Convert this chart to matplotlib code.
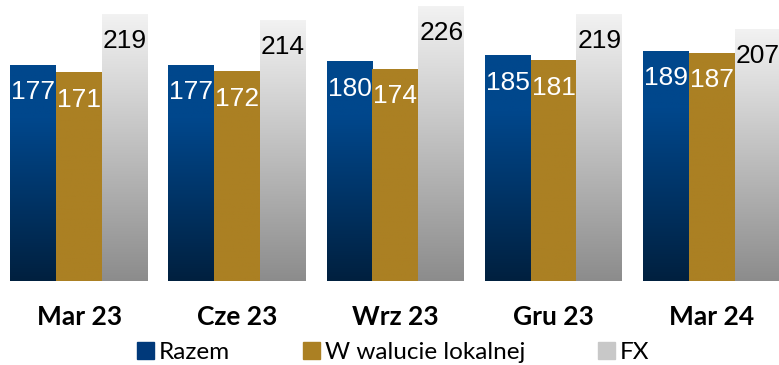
import numpy as np
import matplotlib.pyplot as plt
from matplotlib.colors import LinearSegmentedColormap
from matplotlib.patches import Patch

quarters = ["Mar 23", "Cze 23", "Wrz 23", "Gru 23", "Mar 24"]
razem = [177, 177, 180, 185, 189]
lokalna = [171, 172, 174, 181, 187]
fx = [219, 214, 226, 219, 207]
series_names = ["Razem", "W walucie lokalnej", "FX"]

blue_cmap = LinearSegmentedColormap.from_list(
    "blue", [(0.0, "#00203f"), (0.75, "#00478c"), (1.0, "#00478c")])
gold_cmap = LinearSegmentedColormap.from_list("gold", ["#ab8023", "#ab8023"])
grey_cmap = LinearSegmentedColormap.from_list(
    "grey", [(0.0, "#8c8c8c"), (1.0, "#f2f2f2")])

plt.rcParams['font.family'] = ['Lato', 'DejaVu Sans']

fig = plt.figure(figsize=(7.79, 3.65), dpi=100)
ax = fig.add_axes([0.0, 0.23, 1.015, 0.77])

x = np.arange(len(quarters))
w = 0.29
grad = np.linspace(1, 0, 256).reshape(-1, 1)

def gradient_bars(xs, vals, cmap, txt_color):
    for xi, v in zip(xs, vals):
        ax.imshow(grad, cmap=cmap, vmin=0, vmax=1, aspect='auto',
                  extent=(xi - w / 2, xi + w / 2, 0, v), zorder=2)
        ax.text(xi, v - 22, str(v), ha='center', va='center',
                color=txt_color, fontsize=19,
                family=['Liberation Sans Narrow', 'Liberation Sans'], zorder=3)

gradient_bars(x - w, razem, blue_cmap, "white")
gradient_bars(x, lokalna, gold_cmap, "white")
gradient_bars(x + w, fx, grey_cmap, "black")

ax.set_xlim(-0.5, len(quarters) - 0.5)
ax.set_ylim(0, 231)
ax.set_xticks(x)
ax.set_xticklabels(quarters, fontsize=19, fontweight='bold')
ax.tick_params(axis='x', length=0, pad=17)
ax.set_yticks([])
for s in ax.spines.values():
    s.set_visible(False)

handles = [Patch(color="#00397a"), Patch(color="#ab8023"), Patch(color="#c8c8c8")]
fig.legend(handles, series_names, loc='center', bbox_to_anchor=(0.505, 0.035),
           ncol=3, frameon=False, fontsize=17.5, handlelength=0.7, handleheight=0.7,
           handletextpad=0.2, columnspacing=3.0, borderaxespad=0)

fig.savefig("out.png", dpi=100)
